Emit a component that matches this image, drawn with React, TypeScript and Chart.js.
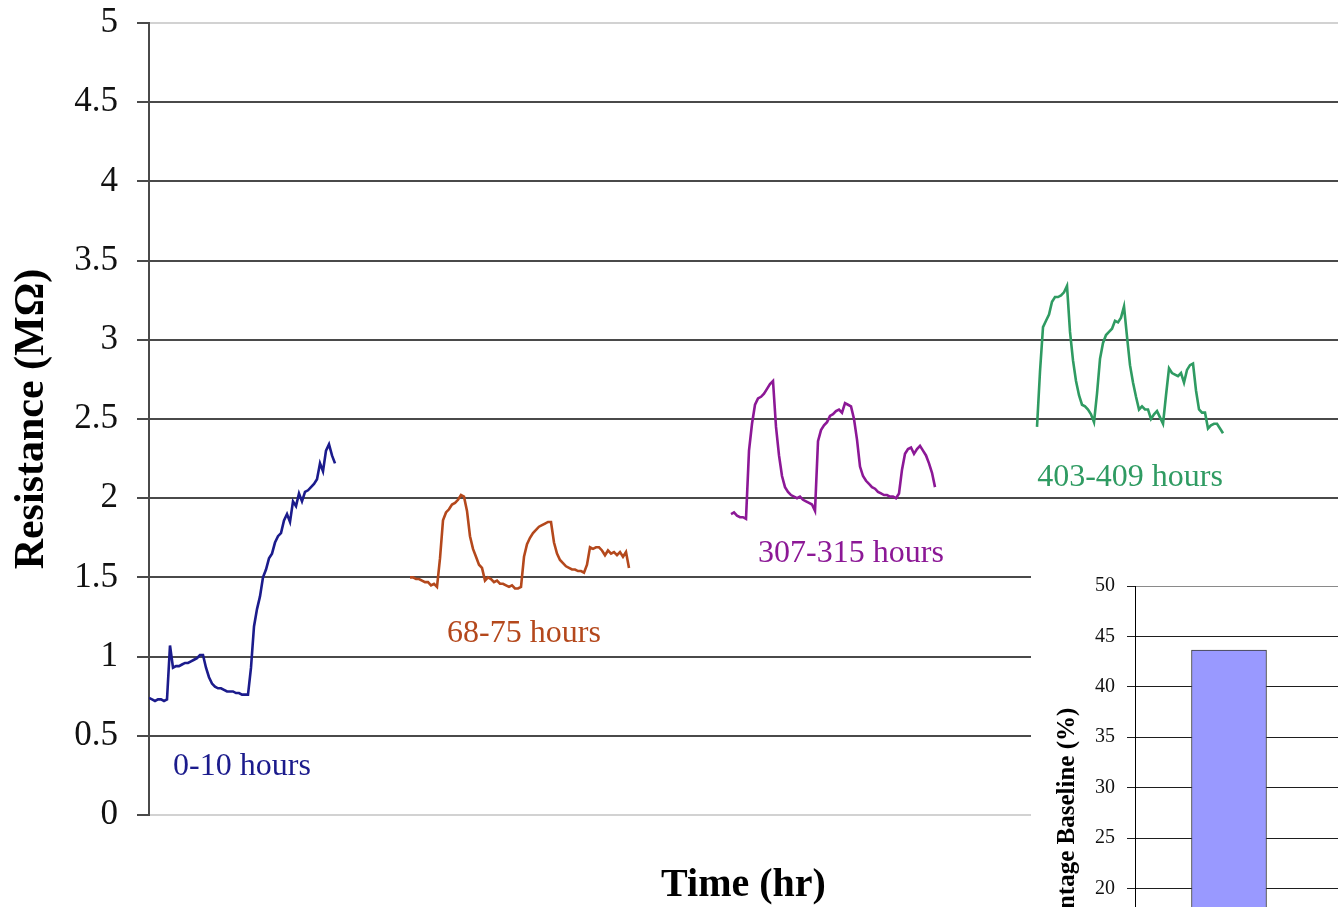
import React, { useEffect, useRef } from "react";
import { Chart, registerables } from "chart.js";

Chart.register(...registerables);

const FONT = "'Liberation Serif', 'Times New Roman', serif";

// Series names (shown as in-plot labels) and colours
const seriesNames = ["0-10 hours", "68-75 hours", "307-315 hours", "403-409 hours"];
const seriesColors = ["#1b1b8c", "#b4481c", "#8c1896", "#2f9b62"];

// Sample index at which each recorded segment starts (one sample per step)
const seriesStarts = [0, 87, 194, 296];

// Resistance (MΩ) samples
const blueValues = [
  0.74, 0.73, 0.72, 0.73, 0.73, 0.72, 0.73, 1.07, 0.93, 0.94, 0.94, 0.95, 0.96, 0.96, 0.97, 0.98,
  0.99, 1.01, 1.01, 0.93, 0.87, 0.83, 0.81, 0.8, 0.8, 0.79, 0.78, 0.78, 0.78, 0.77, 0.77, 0.76,
  0.76, 0.76, 0.93, 1.19, 1.3, 1.38, 1.5, 1.55, 1.62, 1.65, 1.72, 1.76, 1.78, 1.86, 1.9, 1.85,
  1.98, 1.95, 2.03, 1.98, 2.04, 2.05, 2.07, 2.09, 2.12, 2.22, 2.17, 2.3, 2.34, 2.27, 2.22,
];
const brownValues = [
  1.5, 1.5, 1.49, 1.49, 1.48, 1.47, 1.47, 1.45, 1.46, 1.44, 1.62, 1.86, 1.91, 1.93, 1.96, 1.97,
  1.99, 2.02, 2.01, 1.92, 1.76, 1.68, 1.63, 1.58, 1.56, 1.48, 1.5, 1.49, 1.47, 1.48, 1.46, 1.46,
  1.45, 1.44, 1.45, 1.43, 1.43, 1.44, 1.63, 1.71, 1.75, 1.78, 1.8, 1.82, 1.83, 1.84, 1.85, 1.85,
  1.72, 1.65, 1.61, 1.59, 1.57, 1.56, 1.55, 1.55, 1.54, 1.54, 1.53, 1.58, 1.69, 1.68, 1.69, 1.69,
  1.67, 1.64, 1.67, 1.65, 1.66, 1.64, 1.66, 1.63, 1.66, 1.56,
];
const purpleValues = [
  1.9, 1.91, 1.89, 1.88, 1.88, 1.87, 2.3, 2.47, 2.59, 2.63, 2.64, 2.66, 2.69, 2.72, 2.74, 2.45,
  2.27, 2.14, 2.07, 2.04, 2.02, 2.01, 2.0, 2.01, 1.99, 1.98, 1.97, 1.96, 1.92, 2.36, 2.43, 2.46,
  2.48, 2.52, 2.53, 2.55, 2.56, 2.54, 2.6, 2.59, 2.58, 2.5, 2.37, 2.2, 2.14, 2.11, 2.09, 2.07,
  2.06, 2.04, 2.03, 2.02, 2.02, 2.01, 2.01, 2.0, 2.03, 2.18, 2.28, 2.31, 2.32, 2.28, 2.31, 2.33,
  2.3, 2.27, 2.22, 2.16, 2.07,
];
const greenValues = [
  2.45, 2.8, 3.08, 3.12, 3.16, 3.24, 3.27, 3.27, 3.28, 3.3, 3.34, 3.05, 2.87, 2.74, 2.65, 2.59,
  2.58, 2.56, 2.53, 2.48, 2.66, 2.88, 2.98, 3.03, 3.05, 3.07, 3.12, 3.11, 3.14, 3.21, 3.02, 2.84,
  2.73, 2.64, 2.56, 2.58, 2.56, 2.56, 2.5, 2.53, 2.55, 2.51, 2.47, 2.65, 2.82, 2.79, 2.78, 2.77,
  2.79, 2.73, 2.81, 2.84, 2.85, 2.68, 2.56, 2.54, 2.54, 2.44, 2.46, 2.47, 2.47, 2.44, 2.41,
];
const seriesValues = [blueValues, brownValues, purpleValues, greenValues];

// Label anchors (data units: sample index, MΩ)
const labelX = [31, 125, 234, 327];
const labelY = [0.303, 1.143, 1.648, 2.127];

// Axis ranges
const xMin = 0;
const xMax = 396.33;
const yMin = 0;
const yMax = 5;
const yStep = 0.5;

// Inset bar chart
const insetBarX = [0.5];
const insetValues = [43.65];
const insetXMax = 2;
const insetYMax = 50;
const insetYStep = 5;

const seriesLabelPlugin = {
  id: "seriesLabels",
  afterDatasetsDraw(chart: any) {
    const { ctx, scales } = chart;
    const x = scales.x;
    const y = scales.y;
    ctx.save();
    ctx.font = `32px ${FONT}`;
    ctx.textAlign = "center";
    ctx.textBaseline = "middle";
    seriesNames.forEach((name, i) => {
      ctx.fillStyle = seriesColors[i];
      ctx.fillText(name, x.getPixelForValue(labelX[i]), y.getPixelForValue(labelY[i]));
    });
    ctx.restore();
  },
};

const fmt = (v: any) => Number(v).toString();

export default function App() {
  const mainRef = useRef<HTMLCanvasElement | null>(null);
  const insetRef = useRef<HTMLCanvasElement | null>(null);

  useEffect(() => {
    if (!mainRef.current || !insetRef.current) return;

    const datasets = seriesValues.map((vals, i) => ({
      label: seriesNames[i],
      data: vals.map((v, k) => ({ x: seriesStarts[i] + k, y: v })),
      borderColor: seriesColors[i],
      backgroundColor: seriesColors[i],
      borderWidth: 2.6,
      pointRadius: 0,
      tension: 0,
      fill: false,
    }));

    const main = new Chart(mainRef.current, {
      type: "line",
      data: { datasets },
      options: {
        responsive: false,
        animation: false,
        layout: { padding: { top: 23, right: 0, bottom: 0, left: 0 } },
        plugins: { legend: { display: false }, tooltip: { enabled: false } },
        scales: {
          x: {
            type: "linear",
            min: xMin,
            max: xMax,
            ticks: { display: false },
            grid: { display: false },
            border: { color: "#d2d2d2", width: 2 },
            title: {
              display: true,
              text: "Time (hr)",
              color: "#000",
              font: { family: FONT, size: 40, weight: "bold", lineHeight: 1 },
              padding: { top: 51, bottom: 1 },
            },
            afterFit: (s: any) => {
              s.height = 92;
            },
          },
          y: {
            type: "linear",
            min: yMin,
            max: yMax,
            ticks: {
              stepSize: yStep,
              color: "#111",
              padding: 19,
              font: { family: FONT, size: 35, lineHeight: 0.2 },
              callback: fmt,
            },
            grid: {
              color: (c: any) =>
                c.tick && (c.tick.value === yMin || c.tick.value === yMax) ? "#d2d2d2" : "#4a4a4a",
              lineWidth: 2,
              tickLength: 12,
              tickColor: "#4a4a4a",
            },
            border: { color: "#4a4a4a", width: 2 },
            title: {
              display: true,
              text: "Resistance (MΩ)",
              color: "#000",
              font: { family: FONT, size: 42, weight: "bold", lineHeight: 1 },
              padding: { top: 11, bottom: 0 },
            },
            afterFit: (s: any) => {
              s.width = 149;
            },
          },
        },
      },
      plugins: [seriesLabelPlugin],
    } as any);

    const inset = new Chart(insetRef.current, {
      type: "bar",
      data: {
        datasets: [
          {
            data: insetBarX.map((x, i) => ({ x, y: insetValues[i] })),
            backgroundColor: "#9999ff",
            borderColor: "#3a3a3a",
            borderWidth: 1,
            borderSkipped: false,
            barThickness: 75,
          },
        ],
      },
      options: {
        responsive: false,
        animation: false,
        layout: { padding: { top: 20, right: 0, bottom: 36, left: 0 } },
        plugins: { legend: { display: false }, tooltip: { enabled: false } },
        scales: {
          x: { type: "linear", min: 0, max: insetXMax, offset: false, display: false },
          y: {
            type: "linear",
            min: 0,
            max: insetYMax,
            ticks: {
              stepSize: insetYStep,
              color: "#111",
              padding: 12,
              font: { family: FONT, size: 20, lineHeight: 0.5 },
              callback: fmt,
            },
            grid: {
              color: (c: any) => (c.tick && c.tick.value === insetYMax ? "#8a8a8a" : "#1e1e1e"),
              lineWidth: 1,
              tickLength: 8,
              tickColor: "#1e1e1e",
            },
            border: { color: "#000", width: 1 },
            title: {
              display: true,
              text: "Percentage Baseline (%)",
              color: "#000",
              font: { family: FONT, size: 25, weight: "bold", lineHeight: 1 },
              padding: { top: 24.5, bottom: 0 },
            },
            afterFit: (s: any) => {
              s.width = 104;
            },
          },
        },
      },
    } as any);

    return () => {
      main.destroy();
      inset.destroy();
    };
  }, []);

  return (
    <div
      style={{
        position: "absolute",
        left: 0,
        top: 0,
        width: 1338,
        height: 907,
        overflow: "hidden",
        background: "#fff",
      }}
    >
      <canvas
        ref={mainRef}
        width={1338}
        height={907}
        style={{ position: "absolute", left: 0, top: 0, width: 1338, height: 907 }}
      />
      <canvas
        ref={insetRef}
        width={480}
        height={560}
        style={{
          position: "absolute",
          left: 1031,
          top: 566,
          width: 480,
          height: 560,
          background: "#fff",
        }}
      />
    </div>
  );
}
